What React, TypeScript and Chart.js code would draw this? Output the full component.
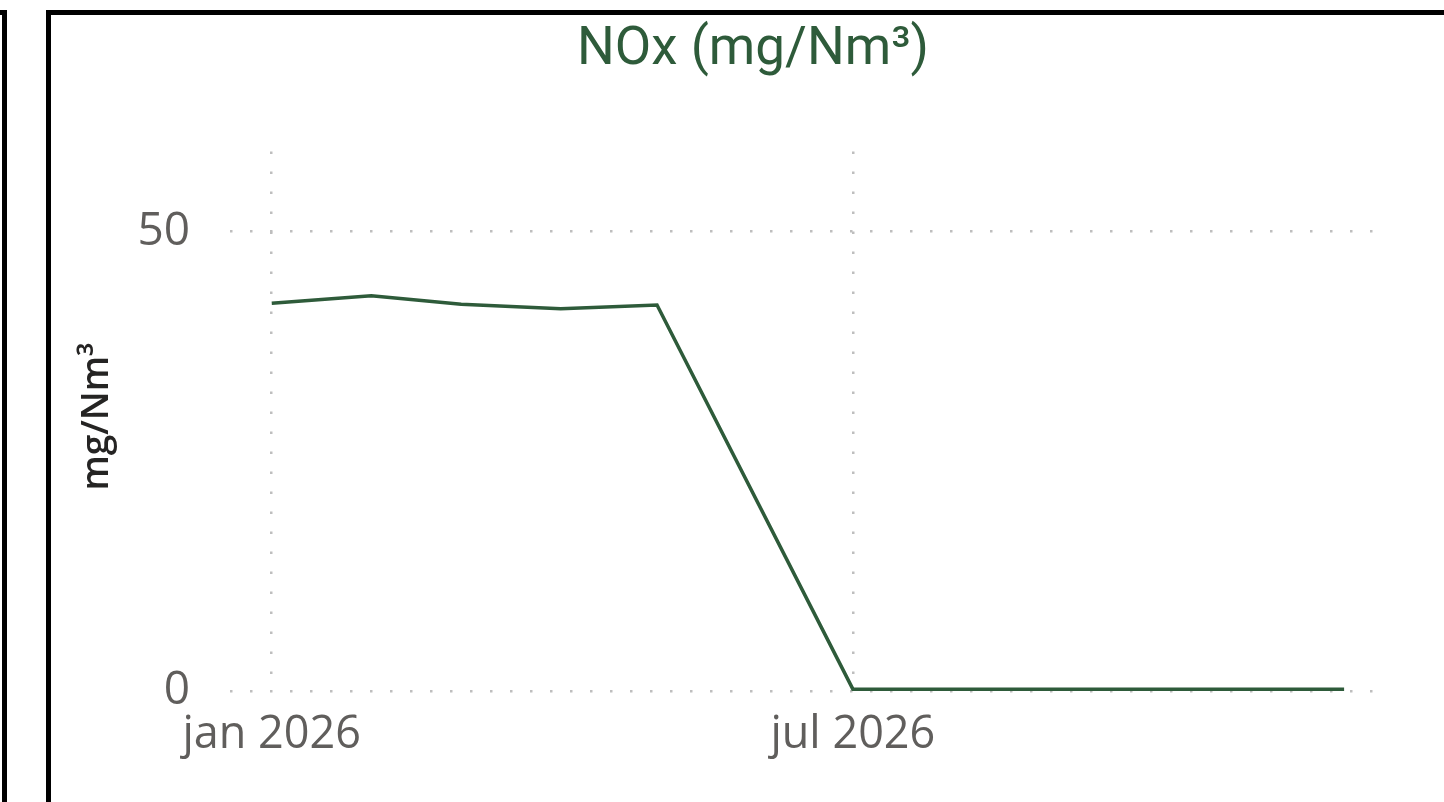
import React, { useEffect, useRef } from "react";
import { Chart, registerables } from "chart.js";

Chart.register(...registerables);

// ---- data ----
const monthDates = [
  "2026-01-01", "2026-02-01", "2026-03-01", "2026-04-01", "2026-05-01", "2026-06-01",
  "2026-07-01", "2026-08-01", "2026-09-01", "2026-10-01", "2026-11-01", "2026-12-01",
];
const noxValues: (number | null)[] = [42.2, 43.0, 42.1, 41.6, 42.0, null, 0.2, 0.2, 0.2, 0.2, 0.2, 0.2];
const xTickDates = ["2026-01-01", "2026-07-01"];
const xTickLabels = ["jan 2026", "jul 2026"];
const xRangeDates = ["2025-12-19", "2026-12-10"];
const yTickValues = [0, 50];
const yMax = 58.7;

const titleText = "NOx (mg/Nm³)";
const yTitleText = " mg/Nm³";

const epoch = Date.parse("2026-01-01T00:00:00Z");
const dayIndex = (d: string) => (Date.parse(d + "T00:00:00Z") - epoch) / 86400000;

const GREEN = "#2E5B3A";
const TICK = "#605E5C";
const GRID = "#BEBEBE";

export default function App() {
  const ref = useRef<HTMLCanvasElement | null>(null);

  useEffect(() => {
    if (!ref.current) return;
    const xTickDays = xTickDates.map(dayIndex);
    const chart = new Chart(ref.current, {
      type: "line",
      data: {
        datasets: [
          {
            label: "NOx",
            data: monthDates.map((d, i) => ({ x: dayIndex(d), y: noxValues[i] as any })),
            borderColor: GREEN,
            backgroundColor: GREEN,
            borderWidth: 3.5,
            pointRadius: 0,
            tension: 0,
            spanGaps: true,
          },
        ],
      },
      options: {
        animation: false,
        responsive: false,
        layout: { padding: 0 },
        plugins: {
          legend: { display: false },
          tooltip: { enabled: false },
          title: {
            display: true,
            text: titleText,
            color: GREEN,
            font: { family: "Roboto", size: 53, weight: "normal" as any, lineHeight: 1.2 },
            padding: { top: 4, bottom: 69 },
          },
        },
        scales: {
          x: {
            type: "linear",
            min: dayIndex(xRangeDates[0]),
            max: dayIndex(xRangeDates[1]),
            afterBuildTicks: (s: any) => {
              s.ticks = xTickDays.map((v) => ({ value: v }));
            },
            afterFit: (s: any) => {
              s.height = 111;
            },
            grid: { color: GRID, lineWidth: 2.5, drawTicks: false },
            border: { display: false, dash: [2.5, 17.5] },
            ticks: {
              autoSkip: false,
              maxRotation: 0,
              padding: 17,
              color: TICK,
              font: { family: "Open Sans", size: 45 },
              callback: (v: any) => {
                const i = xTickDays.indexOf(Number(v));
                return i >= 0 ? xTickLabels[i] : "";
              },
            },
          },
          y: {
            type: "linear",
            min: 0,
            max: yMax,
            afterBuildTicks: (s: any) => {
              s.ticks = yTickValues.map((v) => ({ value: v }));
            },
            afterFit: (s: any) => {
              s.width = 179;
            },
            grid: { color: GRID, lineWidth: 2.5, drawTicks: false },
            border: { display: false, dash: [2.5, 17.5] },
            ticks: {
              padding: 40,
              color: TICK,
              font: { family: "Open Sans", size: 46 },
            },
            title: {
              display: true,
              text: yTitleText,
              color: "#252423",
              font: { family: "Open Sans", size: 37, weight: "600" as any, lineHeight: 1.2 },
              padding: { top: 24, bottom: 0 },
            },
          },
          y2: {
            type: "linear",
            position: "right",
            display: true,
            afterFit: (s: any) => {
              s.width = 82;
            },
            grid: { display: false },
            border: { display: false },
            ticks: { display: false },
          },
        },
      },
    });
    return () => chart.destroy();
  }, []);

  return (
    <div
      style={{
        position: "fixed",
        left: 0,
        top: 0,
        width: 1444,
        height: 802,
        overflow: "hidden",
        background: "#fff",
      }}
    >
      <div
        style={{
          position: "absolute",
          left: -100,
          top: 10,
          width: 107,
          height: 900,
          boxSizing: "border-box",
          border: "5px solid #000",
        }}
      />
      <div
        style={{
          position: "absolute",
          left: 46,
          top: 10,
          width: 1500,
          height: 900,
          boxSizing: "border-box",
          border: "5px solid #000",
        }}
      />
      <canvas
        ref={ref}
        width={1404}
        height={787}
        style={{ position: "absolute", left: 51, top: 15, width: 1404, height: 787 }}
      />
    </div>
  );
}
